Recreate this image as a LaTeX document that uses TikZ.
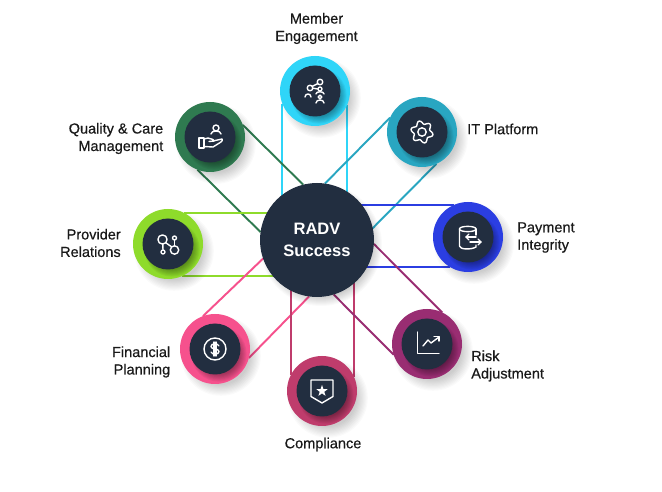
\documentclass[tikz,border=0pt]{standalone}
\usepackage{fontspec}
\setmainfont{Liberation Sans}[FakeBold=0.45]
\newfontfamily\hubfont{Liberation Sans Bold}
\usetikzlibrary{calc}
\pgfdeclarelayer{paper}
\pgfdeclarelayer{wires}
\pgfsetlayers{paper,wires,main}
\definecolor{inkdark}{HTML}{222E40}
\definecolor{cCyan}{HTML}{2FD5F8}
\definecolor{cTeal}{HTML}{29A6C1}
\definecolor{cBlue}{HTML}{2B3EE2}
\definecolor{cPurple}{HTML}{992D72}
\definecolor{cCrim}{HTML}{BF3C6C}
\definecolor{cPink}{HTML}{F6518D}
\definecolor{cLime}{HTML}{8EDB2B}
\definecolor{cGreen}{HTML}{2F7A50}
\tikzset{
  ring/.style={circle,minimum size=52.5pt,inner sep=0pt,outer sep=0pt,fill=#1},
  hubnode/.style={circle,minimum size=85.5pt,inner sep=0pt,outer sep=0pt,fill=inkdark,text=white,align=center,font=\hubfont\fontsize{12.4}{15}\selectfont},
  lbl/.style={text=black!90,font=\fontsize{10.9}{13.1}\selectfont,inner sep=0pt},
  wire/.style={line width=1.45pt,draw=#1},
  glyph/.style={draw=white,line width=1.05pt,line cap=round,line join=round},
  glyphfill/.style={fill=white,draw=none}
}
\newcommand{\badge}[4]{%
  \foreach \i in {0,...,9}{\fill[black,opacity=0.018] ({#2+6},{#3+7}) circle[radius={29+\i*1.2}];}
  \node[ring=#4] (#1) at (#2,#3) {};
  \begin{scope}
    \clip (#2,#3) circle[radius=35];
    \foreach \i in {0,...,7}{\fill[black,opacity=0.05] ({#2+4},{#3+5}) circle[radius={20+\i*1.1}];}
  \end{scope}
  \fill[inkdark] (#2,#3) circle[radius=25.5];
}
\begin{document}
\begin{tikzpicture}[x=0.75pt,y=-0.75pt]
\useasboundingbox (0,0) rectangle (662,492);
\begin{pgfonlayer}{paper}
\fill[white] (0,0) rectangle (662,492);
\end{pgfonlayer}
% hub shadow
\foreach \i in {0,...,9}{\fill[black,opacity=0.018] (321,245) circle[radius={52+\i*1.0}];}
\node[hubnode] (hub) at (317,240) {RADV\\[1pt]Success};
% badges
\badge{member}{315}{91}{cCyan}
\badge{itp}{422}{132}{cTeal}
\badge{quality}{210}{137}{cGreen}
\badge{provider}{168}{244}{cLime}
\badge{payment}{468}{237}{cBlue}
\badge{financial}{215}{349}{cPink}
\badge{compliance}{322}{391}{cCrim}
\badge{risk}{427}{344}{cPurple}
% connectors
\begin{pgfonlayer}{wires}
\draw[wire=cCyan] (member.201.8) -- (member.201.8 |- hub.center);
\draw[wire=cCyan] (member.-23.9) -- (member.-23.9 |- hub.center);
\draw[wire=cTeal] (itp.156.4) -- (hub.82.4);
\draw[wire=cTeal] (itp.-66.4) -- (hub.12.7);
\draw[wire=cGreen] (quality.20.4) -- (hub.104.4);
\draw[wire=cGreen] (quality.249.6) -- (hub.172.4);
\draw[wire=cLime] (provider.62.4) -- (provider.62.4 -| hub.center);
\draw[wire=cLime] (provider.-66) -- (provider.-66 -| hub.center);
\draw[wire=cBlue] (payment.114) -- (payment.114 -| hub.center);
\draw[wire=cBlue] (payment.239) -- (payment.239 -| hub.center);
\draw[wire=cPink] (financial.110) -- (hub.199.4);
\draw[wire=cPink] (financial.-15.3) -- (hub.262);
\draw[wire=cCrim] (compliance.152.4) -- (compliance.152.4 |- hub.center);
\draw[wire=cCrim] (compliance.23.9) -- (compliance.23.9 |- hub.center);
\draw[wire=cPurple] (risk.198.4) -- (hub.-73.9);
\draw[wire=cPurple] (risk.64) -- (hub.-4.8);
\end{pgfonlayer}
% labels
\node[lbl,align=center] (tMember) at (316.5,28.5) {Member\\Engagement};
\node[lbl,align=right,anchor=east] (tQuality) at (163.5,138.5) {Quality \& Care\\Management};
\node[lbl,anchor=west] (tIT) at (467,129) {IT Platform};
\node[lbl,align=right,anchor=east] (tProvider) at (121,243) {Provider\\Relations};
\node[lbl,align=left,anchor=west] (tPayment) at (517,237.5) {Payment\\Integrity};
\node[lbl,align=right,anchor=east] (tFinancial) at (170.5,362) {Financial\\Planning};
\node[lbl,align=left,anchor=west] (tRisk) at (471,366) {Risk\\Adjustment};
\node[lbl] (tCompliance) at (323,444.5) {Compliance};
% icons
% member
\begin{scope}[shift={(member.center)},glyph]
\draw (-5,-3) circle[radius=2.8];
\draw (5,-9) circle[radius=2.8];
\draw (5,-2) circle[radius=2];
\draw (-3,-4.5) -- (3,-7.5);
\draw (-2.2,-2.8) -- (3,-2);
\draw (-10,6) .. controls (-10,2) and (-4,2) .. (-4,6);
\draw (1,3) .. controls (1,0) and (9,0) .. (9,3);
\draw (1,12) .. controls (1,8) and (9,8) .. (9,12);
\draw (5,6) circle[radius=1.8];
\end{scope}
% it gear
\begin{scope}[shift={(itp.center)},glyph]
\draw plot[smooth cycle,samples=48,domain=0:352.5,variable=\t] ({(9.6+1.7*sin(6*\t))*cos(\t)},{(9.6+1.7*sin(6*\t))*sin(\t)});
\draw (0,0) circle[radius=4.2];
\end{scope}
% quality
\begin{scope}[shift={(quality.center)},glyph]
\draw (6,-9) circle[radius=3];
\draw (1,-3) .. controls (1,-7) and (11,-7) .. (11,-3);
\draw (-11,1) rectangle (-6,11);
\draw (-6,2) -- (-2,1) -- (3,2.5) -- (4,4) -- (-1,4.5);
\draw (3,4) -- (12,2) .. controls (13,3) and (12,4) .. (11,5) -- (3,10) -- (-6,9.5);
\end{scope}
% provider
\begin{scope}[shift={(provider.center)},glyph]
\draw (-5.5,-4.5) circle[radius=4.6];
\draw (6.5,-6) circle[radius=2];
\draw (-5,8) circle[radius=2];
\draw (6.5,6) circle[radius=4.2];
\draw (-5.2,0.1) -- (-5,6);
\draw (-2.2,-1.2) -- (3.6,2.8);
\draw (6.5,-4) -- (6.5,1.8);
\end{scope}
% payment
\begin{scope}[shift={(payment.center)},glyph]
\draw (-8.5,-8) .. controls (-8.5,-11.5) and (8,-11.5) .. (8,-8) .. controls (8,-4.5) and (-8.5,-4.5) .. (-8.5,-8);
\draw (8,-8) -- (8,-2);
\draw (-8.5,-8) -- (-8.5,9) .. controls (-8.5,12.5) and (3,13) .. (8,10) -- (8,8);
\draw (-2,0) -- (8,0);
\draw (1,-3) -- (-2,0) -- (1,3);
\draw (2,5) -- (13,5);
\draw (10,2) -- (13,5) -- (10,8);
\end{scope}
% financial
\begin{scope}[shift={(financial.center)},glyph]
\draw (0,0) circle[radius=11];
\draw (4,-3) .. controls (3,-6) and (-4,-6) .. (-4,-2.5) .. controls (-4,1) and (4,-1) .. (4,2.5) .. controls (4,6) and (-3,6) .. (-4,3);
\draw (-1,-7) -- (-1,7);
\draw (1,-7) -- (1,7);
\end{scope}
% risk
\begin{scope}[shift={(risk.center)},glyph]
\draw (-9.5,-12) -- (-9.5,9.5) -- (12,9.5);
\draw (-4,2) -- (1,-4) -- (4,-1) -- (12,-7);
\draw (7,-7.5) -- (12,-7.5) -- (12,-3);
\end{scope}
% compliance
\begin{scope}[shift={(compliance.center)},glyph]
\draw (-11,-11) -- (11,-11) -- (11,5.5) -- (0,12) -- (-11,5.5) -- cycle;
\fill[white] (90:-6) -- (126:-2.4) -- (162:-6) -- (198:-2.4) -- (234:-6) -- (270:-2.4) -- (306:-6) -- (342:-2.4) -- (18:-6) -- (54:-2.4) -- cycle;
\end{scope}
\end{tikzpicture}
\end{document}
